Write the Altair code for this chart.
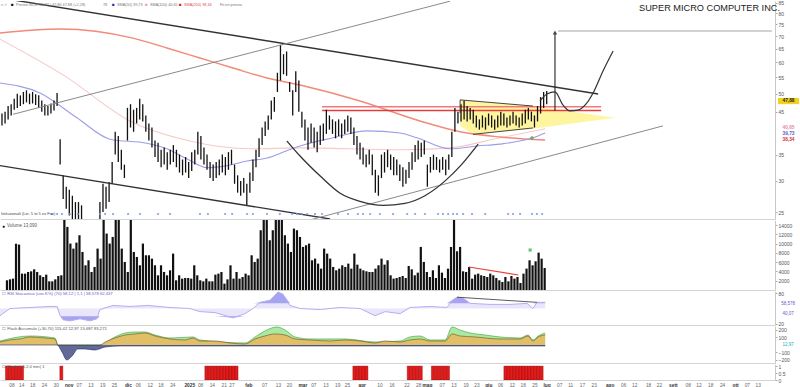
import altair as alt
import pandas as pd

FONT = "Liberation Sans"
W = 775
X_DOM = [-0.65, 252.6]

# ---------------- price bars (trading-day index 0..178) ----------------
high = [44.5,45,46.5,47,48.5,50,49.5,50.5,51,50,50.5,49.8,49.5,48,47,46.5,47.2,48,50.2,38.3,
        31,29,28.5,27.5,26.5,26.5,26,23,22,21,20,19.5,26.5,29.5,29,29.8,33.5,40,39,36,
        33,46,47,45.5,46,48.5,47,44,42,41,38,37.5,36,36.5,35.5,36,37,36,35,34,
        34.5,33.5,35.5,36,40,39,36.5,35,33.5,33,33.5,34,35,34.5,35.5,36,33,31,30,30.5,
        29.5,31.5,34,36,38.5,41,42.5,44,48,49,56.5,66.5,63,64,53.5,51,57,54,45,43,
        41,42,41,40,41.5,42,45.5,44,43,42.5,43,42,43,44,43.5,41,39,37.5,36.5,35,
        36,35,32,31,35,35.5,36,35,34.5,34,33,32.5,32,33.5,35.5,37,38,37.5,38,33,
        34.5,35,34.5,34,34.5,34,35,40,46,45,47,48,46.5,46,45.5,44,43,44,43.5,44.5,
        44,43,44,45,44.5,43.5,44,45,44,43.5,44.5,45.5,46,45,44,46.5,49,50.5,50.8]
low = [41.5,42,43,44,45.5,46,46.5,47,47.5,47,47.2,46.8,46,45,44,44,44.5,45.3,46.5,33,
       27,25.5,24.5,23,22.5,23.5,22,20,19,18.5,17.5,17.3,22,25,25.5,26.5,29.5,35,33.5,32,
       30.5,38,41,40,42,43,42.5,40,38,36.5,34.5,33.5,32.5,33,32,33,33.5,32.5,31.5,31,
       31.5,30.5,31.8,33,35,34,33,32,30.5,30,30.5,31,31.5,31,32,33,29.5,28,27.5,28,
       26,28,30,32.5,34.5,37,39,40.5,43,45,50.5,54,56,55.5,50.5,44,50.5,45,41,38,
       36,37.5,36.5,35.5,37,38,39.5,40.5,39.5,38.5,39,38.5,39.5,40,39.5,37,35,34,33,32.5,
       33,31,28,27.5,30.5,31.5,32.5,32,31,31,30,29,29.5,30.5,32,33.5,34,34.5,35,29,
       31.5,32,32,31.5,32,31,32,34.5,40,42,42.5,43,42.5,43,42,41,40.5,41,40.5,41.5,
       41,40.5,41,41.5,41.5,41,41.5,42,41.5,41,41.5,42,43,42.5,41,42.5,44.5,46,47]
volume = [2090,2300,2450,10000,9800,3530,3530,3890,4030,4460,3890,3170,2810,3310,1870,1870,2300,3020,3170,
          15500,
          13610,10010,8930,10220,11810,8210,5330,6410,3890,4970,8930,6770,
          15500,12170,10010,11450,
          15500,15500,8930,6050,3890,
          15500,8210,7130,5330,10010,7490,7490,6770,5330,3170,
          5330,3890,3170,4250,7850,2090,3170,2450,2590,2590,
          2450,5330,3170,2090,1870,2450,1870,
          1870,3310,3530,3890,1370,2300,5330,2450,3890,
          2450,2810,3530,3170,7490,6050,6770,
          12890,15500,15500,10730,12890,15500,15500,15500,11810,10010,
          8210,13250,12890,11450,9290,9650,10010,6410,6770,5690,
          4610,8930,7850,6770,4970,4250,4610,5330,4970,5690,
          4610,7850,5470,4610,4250,4030,3890,3890,
          4610,5330,6770,5470,6410,3170,2450,2590,2810,
          3020,2590,5180,4460,3170,3740,9290,6050,3890,2810,4250,2590,5330,3740,2590,4610,9290,17000,
          8350,9290,4030,3890,4970,2450,3310,3530,3170,3020,2810,3530,3170,2590,2090,1730,2810,1870,3020,2450,
          2810,1510,3530,4610,6410,5330,6190,8060,6770,4750]
flash_days = [0,1,2,3,4,5,18,66,67,68,69,70,71,72,73,74,75,76,115,116,117,118,119,
              133,134,135,136,137,141,142,143,144,145,146,
              165,166,167,168,169,170,171,172,173,174,175,176,177]
idx = list(range(len(high)))

# ---------------- moving averages (read at sparse points) ----------------
sma200_x = [-0.65,19,42.8,53.9,64.7,75.5,86.6,97.4,117,136.6,149.7,162.7,177.5]
sma200_y = [71.3,73.0,69.2,65.3,61.6,58.1,54.8,52.6,47.9,42.6,40.0,38.8,38.1]
sma100_x = [-0.65,20.6,41.8,61.4,81.0,97.4,113.7,130.1,146.4,162.7,177.5]
sma100_y = [68.8,55.4,42.6,37.9,36.2,36.4,36.2,36.0,36.4,38.6,40.7]
sma50_x = [-0.65,12.4,24.5,35.3,47.4,53.9,60.5,67,73.5,80.1,86.6,93.1,97.4,108.2,119.3,130.1,135.6,146.4,155.2,162.7,173.5,177.5]
sma50_y = [53.2,50.2,43.4,38.3,37.4,36.2,34.1,32.4,32.8,33.7,34.3,35.8,36.8,38.6,40.2,39.7,38.6,36.2,36.8,37.2,38.6,39.7]

# ---------------- drawn annotations ----------------
desc_x, desc_y = [-0.65, 194.8], [87.6, 49.9]
upg_x, upg_y = [3.6, 146.4], [44.3, 85.9]
lowb_x, lowb_y = [-0.65, 107.2], [32.8, 24.0]
lowg_x, lowg_y = [97.4, 216.0], [23.5, 41.4]
cup_x = [93.1,97.4,103.9,110.5,117,124.5,131.7,138.2,144.8,150.3,155.6]
cup_y = [37.9,34.7,30.9,27.9,26.6,26.0,26.3,27.5,30.0,33.1,37.2]
arrow_x, arrow_y = [180.7, 180.7], [45.2, 71.5]
topg_x, topg_y = [181.7, 251.6], [72.1, 72.1]
s_x = [175.8,178.1,180.7,183.3,185.6,188.2,190.8,193.5,196.4,199.7]
s_y = [47.9,49.9,50.5,46.8,45.2,45.4,47.0,50.8,57.1,64.2]
res_x = [104.6, 195.8]
res1, res2 = 46.3, 45.3
pen_x = [149.7,153.9,173.5,200.3]
pen_top = [48.2,47.9,46.5,43.4]
pen_bot = [41.4,39.4,40.7,43.4]
signal_x = [16.3,18.0,19.6,22.2,24.8,32.0,33.7,36.3,41.2,45.1,51.0,54.9,64.7,67.3,72.9,75.2,80.1,82.0,86.6,90.8,
            94.8,96.4,98.0,99.7,102.3,104.6,109.8,113.1,116.3,118.0,120.3,123.5,127.8,132.4,135.0,138.2,142.5,
            144.1,145.8,147.4,148.7,150.7,153.6,157.9,165.4,167.0,169.3,173.2,174.8,176.5]
price_ticks = [25,30,35,45,50,55,60,65,70,75,80,85]
last_price = 47.88

# ---------------- oscillators ----------------
rsi_x = [-0.65,2.6,9.2,15.7,18,19,20,22.2,25.5,28.8,31,32,36.3,41.8,47.7,54.9,61.4,64.7,69.6,75.5,79.4,82,84.3,87.6,90.2,
         91.8,94.1,97.4,104,110.5,117,121.9,125.2,130.1,133.3,139.9,145.4,147.1,148.7,150.7,153,159.5,166,171.6,173.5,174.8,177.5]
rsi_v = [36,50,52,54,54,36,28,26,30,26,30,48,56,54,56,52,50,44,42,32,40,50,62,66,82,
         78,56,50,48,52,50,36,44,40,52,54,52,66,72,70,60,58,58,60,50,62,62]
orange_x = [-0.65,2.6,5.9,9.2,14.1,17.3,18.3,32,33.7,36.9,40.2,43.5,46.7,50,54.9,59.8,62.4,64.7,69.6,74.5,79.4,82.7,85.9,
            89.2,92.5,95.8,100.7,107.2,112.1,117,121.9,125.2,130.1,133.3,136.6,139.9,144.8,147.1,149.7,154.6,162.7,169.3,
            171.9,173.5,175.2,177.5]
orange_v = [40,67,80,107,93,80,0,0,40,93,133,147,160,120,80,67,93,53,53,27,13,80,120,147,133,80,67,53,67,53,27,53,40,
            67,80,53,53,147,120,107,80,80,120,53,107,133]
green_x = [-0.65,9.2,17.3,18.3,32,36.9,40.2,43.5,46.7,50,54.9,62.4,64.7,79.4,82.7,85.9,89.9,92.5,95.8,100.7,112.1,121.9,
           130.1,133.3,136.6,139.9,144.8,147.1,149.7,153,157.9,162.7,169.3,171.9,173.5,175.2,177.5]
green_v = [53,120,93,0,0,107,160,173,173,133,93,107,67,27,107,187,240,200,107,80,80,40,53,107,120,67,67,240,200,160,133,
           107,93,133,67,120,160]
navy_x = [-0.65,18,19.6,21.2,22.9,24.8,27.1,30.4,33.7,38.6,81.1,97.4,146.4,177.5]
navy_v = [0,0,-93,-200,-147,-53,-53,-67,-27,-13,-13,-13,-13,-13]

# ---------------- bottom date labels ----------------
tick_x = [1.63,4.9,8.5,12.4,16.3,20.6,23.9,27.8,31.7,35.6,40.2,43.5,47.4,51.0,54.9,60.5,64.1,68.0,71.9,74.5,80.1,85.3,
          89.9,93.5,98.0,101.6,105.6,109.5,112.7,117.6,123.5,127.5,132.4,136.3,139.2,144.1,148.0,152.0,155.6,159.5,163.4,
          167.3,170.9,174.8,178.8,183.0,186.6,190.5,194.4,199.7,204.2,207.8,212.4,216.0,220.6,225.5,229.1,233.0,236.9,
          241.2,245.1,248.7]
tick_t = ["08","14","18","24","30","nov","07","13","19","25","dic","06","12","18","24","2025","08","14","21","27","feb",
          "07","13","20","mar","07","13","19","25","apr","10","16","22","28","mag","07","13","19","23","giu","06","12",
          "18","25","lug","07","11","17","23","ago","06","12","18","22","sett","08","12","18","24","ott","07","13"]
months = {"nov","dic","2025","feb","mar","apr","mag","giu","lug","ago","sett","ott"}

# ================= helpers =================
xs = alt.Scale(domain=X_DOM, nice=False, zero=False)
x_axis = alt.Axis(labels=False, ticks=False, grid=False, domain=True, domainColor="#d4d4d4", title=None)


def X():
    return alt.X("x:Q", scale=xs, axis=x_axis, title=None)


def yaxis(values, fmt="d"):
    return alt.Axis(orient="right", values=values, format=fmt, labelFontSize=5, labelFont=FONT,
                    labelColor="#555", tickSize=2, tickColor="#aaa", domainColor="#c8c8c8",
                    grid=False, title=None, labelPadding=1)


def line(xv, yv, Y, **mk):
    df = pd.DataFrame({"x": xv, "y": yv, "o": list(range(len(xv)))})
    return alt.Chart(df).mark_line(clip=True, **mk).encode(x=X(), y=Y, order="o:Q")


def label(text, x, y, size=5, color="#555", weight="normal", align="left"):
    return alt.Chart(pd.DataFrame({"t": [text]})).mark_text(
        font=FONT, fontSize=size, color=color, fontWeight=weight, align=align, baseline="middle"
    ).encode(text="t:N", x=alt.value(x), y=alt.value(y))

# ================= price panel =================
PY = alt.Y("y:Q", scale=alt.Scale(type="log", domain=[24, 86], nice=False), axis=yaxis(price_ticks), title=None)

pen_df = pd.DataFrame({"x": pen_x, "y": pen_top, "y2": pen_bot})
pennant = alt.Chart(pen_df).mark_area(color="#fff39a", opacity=0.95, clip=True).encode(x=X(), y=PY, y2="y2:Q")

bars_df = pd.DataFrame({"x": idx, "y": high, "y2": low})
bars = alt.Chart(bars_df).mark_rule(color="#111", strokeWidth=1.3, clip=True).encode(x=X(), y=PY, y2="y2:Q")

sig_df = pd.DataFrame({"x": signal_x})
signals = alt.Chart(sig_df).mark_point(filled=True, size=5, color="#6f9ae0", opacity=0.9, clip=True).encode(
    x=X(), y=alt.value(213))

box_df = pd.DataFrame({"y": [48.75], "y2": [47.02]})
price_box = alt.Chart(box_df).mark_rect(color="#f2d21b").encode(
    x=alt.value(778), x2=alt.value(799), y=PY, y2="y2:Q")
end_df = pd.DataFrame({"y": [last_price, 40.9, 39.5, 38.2], "t": ["47,88", "40,65", "39,73", "38,34"],
                       "c": ["#222", "#e58aa0", "#5c5fd0", "#e03030"]})
end_labels = alt.Chart(end_df).mark_text(font=FONT, fontSize=4.8, fontWeight="bold", align="center").encode(
    x=alt.value(788.5), y=PY, text="t:N", color=alt.Color("c:N", scale=None))

star_df = pd.DataFrame({"x": [173.2], "y": [38.6]})
star = alt.Chart(star_df).mark_point(shape="cross", filled=True, size=14, color="#2faa3a").encode(x=X(), y=PY)
head_df = pd.DataFrame({"x": [arrow_x[1]], "y": [arrow_y[1]]})
arrow_head = alt.Chart(head_df).mark_point(shape="triangle-up", filled=True, size=22, color="#222").encode(x=X(), y=PY)

price = alt.layer(
    pennant,
    line(sma100_x, sma100_y, PY, color="#f7c9c9", strokeWidth=1.1, interpolate="monotone"),
    line(sma200_x, sma200_y, PY, color="#f28a7a", strokeWidth=1.4, interpolate="monotone"),
    line(sma50_x, sma50_y, PY, color="#9b9de6", strokeWidth=1.1, interpolate="monotone"),
    line(res_x, [res1, res1], PY, color="#f07a7a", strokeWidth=1.4),
    line(res_x, [res2, res2], PY, color="#e63c3c", strokeWidth=1.4),
    bars,
    line(desc_x, desc_y, PY, color="#333", strokeWidth=1.4),
    line(upg_x, upg_y, PY, color="#8a8a8a", strokeWidth=1),
    line(lowb_x, lowb_y, PY, color="#333", strokeWidth=1.3),
    line(lowg_x, lowg_y, PY, color="#8a8a8a", strokeWidth=1),
    line(cup_x, cup_y, PY, color="#333", strokeWidth=1.3, interpolate="monotone"),
    line([pen_x[0], pen_x[2]], [pen_top[0], pen_top[2]], PY, color="#333", strokeWidth=0.9),
    line([pen_x[1], pen_x[2]], [pen_bot[1], 40.9], PY, color="#333", strokeWidth=0.9),
    line([pen_x[0], pen_x[0]], [pen_top[0], 44.6], PY, color="#333", strokeWidth=0.9),
    line(topg_x, topg_y, PY, color="#d2d2d2", strokeWidth=2),
    line(arrow_x, arrow_y, PY, color="#222", strokeWidth=1.1),
    arrow_head,
    line(s_x, s_y, PY, color="#333", strokeWidth=1.2, interpolate="monotone"),
    star,
    signals,
    price_box,
    end_labels,
    label("SUPER MICRO COMPUTER INC.", 780, 7, size=9.2, color="#222", align="right"),
    label("v  ✓", 1, 3.5, size=4, color="#5a9a5a"),
    label("■", 11, 3.5, size=4.5, color="#111"),
    label("Prezzo 46,89 48,87 | 45,86 47,88 (+2,28)", 16, 3.5, size=3.8, color="#777"),
    label("78", 103, 3.5, size=3.8, color="#777"),
    label("■", 112, 3.5, size=4.5, color="#2233aa"),
    label("SMA(50) 39,73", 117, 3.5, size=3.8, color="#777"),
    label("■", 145, 3.5, size=4.5, color="#f0a0b0"),
    label("SMA(100) 40,65", 150, 3.5, size=3.8, color="#777"),
    label("■", 179, 3.5, size=4.5, color="#e02020"),
    label("SMA(200) 38,34", 184, 3.5, size=3.8, color="#e05050"),
    label("Fit on prezzo", 220, 3.5, size=3.8, color="#777"),
    label("Istituzionali (Lin. 5 to 5 ex Fav)", 1, 213, size=4, color="#444"),
).properties(width=W, height=218)

# ================= volume panel =================
VY = alt.Y("y:Q", scale=alt.Scale(domain=[0, 15100], nice=False),
           axis=yaxis([2000, 4000, 6000, 8000, 10000, 12000, 14000]), title=None)
vol_df = pd.DataFrame({"x": idx, "y": volume})
vol = alt.layer(
    alt.Chart(vol_df).mark_bar(color="#111", size=2.2, clip=True).encode(x=X(), y=VY),
    line([152.9, 169.3], [4960, 3230], VY, color="#e84040", strokeWidth=1.2),
    alt.Chart(pd.DataFrame({"x": [173.2], "y": [8620]})).mark_point(
        filled=True, size=10, color="#2faa3a", shape="square").encode(x=X(), y=VY),
    label("●", 2, 6, size=5, color="#111"),
    label("Volume  13,090", 7, 6, size=4.5, color="#555"),
).properties(width=W, height=70)

# ================= RSI panel =================
RY = alt.Y("y:Q", scale=alt.Scale(domain=[18, 84], nice=False), axis=yaxis([20, 80]), title=None)
rsi_df = pd.DataFrame({"x": rsi_x, "v": rsi_v})
rsi_df["up_l"] = rsi_df["v"].clip(lower=50)
rsi_df["dn_l"] = rsi_df["v"].clip(upper=50)
rsi_df["up_d"] = rsi_df["v"].clip(lower=60)
rsi_df["dn_d"] = rsi_df["v"].clip(upper=35)


def rsi_area(col, base, color, op):
    d = rsi_df.assign(y=rsi_df[col], y2=base)
    return alt.Chart(d).mark_area(color=color, opacity=op, clip=True).encode(x=X(), y=RY, y2="y2:Q")


rsi = alt.layer(
    rsi_area("up_l", 50, "#e9e6fb", 1),
    rsi_area("dn_l", 50, "#e9e6fb", 1),
    rsi_area("up_d", 60, "#9a96ee", 0.85),
    rsi_area("dn_d", 35, "#9a96ee", 0.85),
    line(rsi_x, rsi_v, RY, color="#b7aef0", strokeWidth=1),
    line([148.7, 174.8], [72, 62], RY, color="#333", strokeWidth=0.8),
    alt.Chart(pd.DataFrame({"y": [58.5, 40], "t": ["58,578", "40,07"]})).mark_text(
        font=FONT, fontSize=4.5, color="#6a5acd", align="center").encode(x=alt.value(788), y=RY, text="t:N"),
    label("☐ RSI Stocastico (con K%) (70)  58,12 | 1,1 |  58,578  62,437", 2, 3, size=4.2, color="#6a5acd"),
).properties(width=W, height=34)

# ================= money-flow panel =================
MY = alt.Y("y:Q", scale=alt.Scale(domain=[-240, 253], nice=False), axis=yaxis([200, 100, -100, -200]), title=None)


def mf_area(xv, vv, color, stroke):
    d = pd.DataFrame({"x": xv, "y": vv, "y2": 0})
    return alt.Chart(d).mark_area(color=color, line={"color": stroke, "strokeWidth": 0.6}, clip=True,
                                  interpolate="monotone").encode(x=X(), y=MY, y2="y2:Q")


mf = alt.layer(
    mf_area(green_x, green_v, "#86e07a", "#3d9a35"),
    mf_area(orange_x, orange_v, "#f6ac4e", "#6e4a1c"),
    mf_area(navy_x, navy_v, "#1f2a6e", "#1f2a6e"),
    alt.Chart(pd.DataFrame({"y": [0], "t": ["12,97"]})).mark_text(
        font=FONT, fontSize=4.5, color="#22b0b0", align="center").encode(x=alt.value(788), y=MY, text="t:N"),
    label("☐ Flash Accumulo (+30,70)   115,42    12,97   15,687   83,271", 2, 3, size=4.2, color="#555"),
).properties(width=W, height=37)

# ================= flash panel =================
FY = alt.Y("y:Q", scale=alt.Scale(domain=[0, 1.15], nice=False), axis=yaxis([0, 0.5, 1], ".1~f"), title=None)
fl_df = pd.DataFrame({"x": flash_days, "y": [1] * len(flash_days)})
tick_df = pd.DataFrame({"x": tick_x, "t": tick_t})
tick_df["m"] = tick_df["t"].isin(months)

flash = alt.layer(
    alt.Chart(fl_df).mark_bar(color="#e41b1b", stroke="#8a0000", strokeWidth=0.4, size=3, clip=True).encode(
        x=X(), y=FY),
    alt.Chart(tick_df[~tick_df["m"]]).mark_text(font=FONT, fontSize=4.8, color="#666", baseline="top").encode(
        x=X(), y=alt.value(19), text="t:N"),
    alt.Chart(tick_df[tick_df["m"]]).mark_text(font=FONT, fontSize=4.8, color="#333", fontWeight="bold",
                                               baseline="top").encode(x=X(), y=alt.value(19), text="t:N"),
    label("☐ Flash (+5,2,0 min)  1", 2, 3, size=4.2, color="#555"),
).properties(width=W, height=16)

chart = alt.vconcat(price, vol, rsi, mf, flash, spacing=1, bounds="flush").properties(
    padding=0, background="white"
).configure_view(stroke=None)

chart.save("out.html", embed_options={"renderer": "svg", "actions": False})
